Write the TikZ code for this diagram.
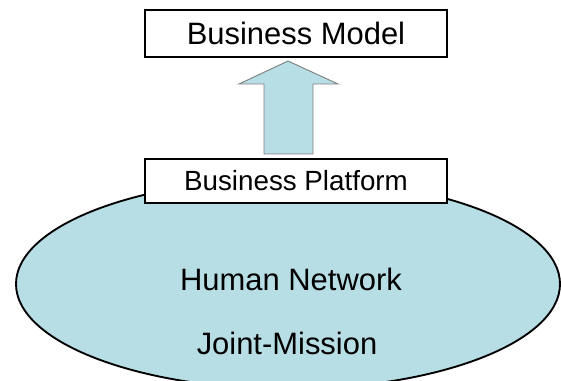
\documentclass[tikz,border=0pt]{standalone}
\usepackage{fontspec}
\setmainfont{Liberation Sans}
\usetikzlibrary{positioning, calc, shapes.geometric}
\definecolor{paleblue}{RGB}{183,222,229}

\begin{document}
\begin{tikzpicture}[
    labelbox/.style={rectangle, draw, line width=1.7pt, fill=white, minimum width=9.06cm},
    bigtext/.style={font=\fontsize{26.4}{30}\selectfont}
]
    \clip (0,0) rectangle (16.83,11.4);

    % Human network base
    \node[ellipse, draw, line width=1.6pt, fill=paleblue, inner sep=0,
        minimum width=16.32cm, minimum height=6.3cm] (network) at (8.64, 2.88) {};
    \node[bigtext] (human) at (8.73, 3.03) {Human Network};
    \node[bigtext] (mission) at (8.61, 1.11) {Joint-Mission};

    % Platform and model boxes
    \node[labelbox, minimum height=1.32cm, font=\fontsize{23.7}{28}\selectfont]
        (platform) at (8.88, 5.97) {Business Platform};
    \node[labelbox, minimum height=1.41cm, bigtext]
        (model) at (8.88, 10.395) {Business Model};

    % Block arrow up to the model
    \coordinate (tip) at ($(model.south)+(-0.24,-0.09)$);
    \draw[gray, line width=0.8pt, fill=paleblue] (tip) -- ++(1.5,-0.69) -- ++(-0.75,0)
        -- ++(0,-2.1) -- ++(-1.47,0) -- ++(0,2.1) -- ++(-0.75,0) -- cycle;
\end{tikzpicture}
\end{document}
